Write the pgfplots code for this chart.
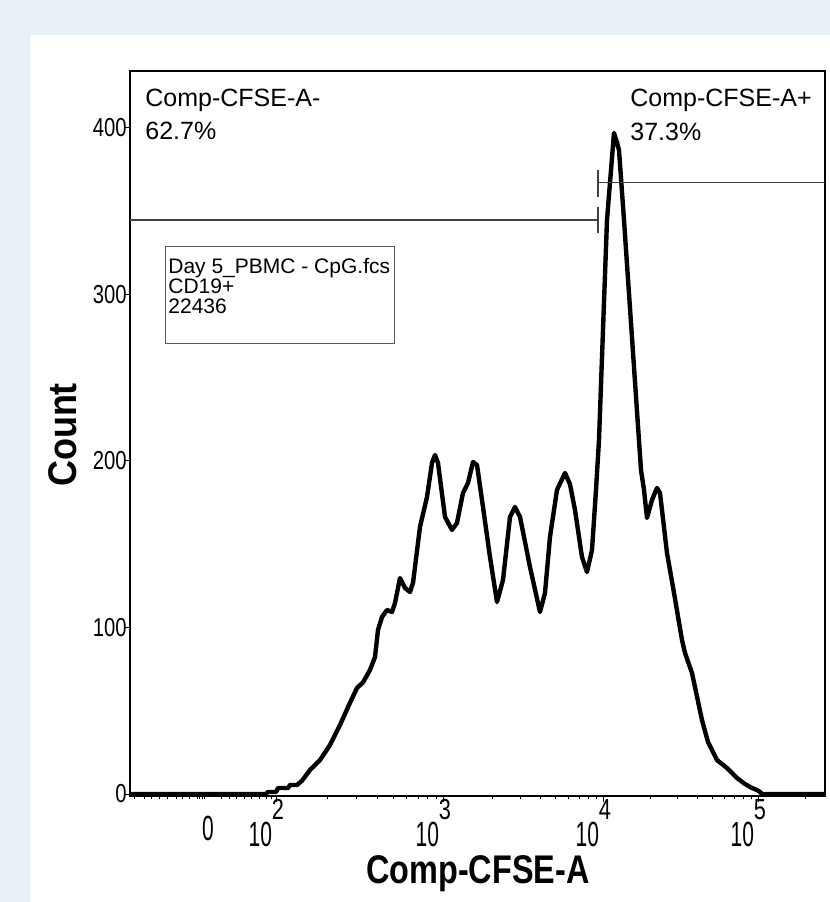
\documentclass[border=0pt]{standalone}
\usepackage{pgfplots}
\pgfplotsset{compat=1.18}
\usepackage{fontspec}
\setmainfont{Liberation Sans}
\newfontfamily\narrowfont{Liberation Sans}[FakeStretch=0.6]
\newfontfamily\expfont{Liberation Sans}[FakeStretch=0.75]
\newfontfamily\ylabfont{Liberation Sans}[FakeStretch=0.78]
\newfontfamily\xaxlabfont{Liberation Sans}[FakeStretch=0.81]
\newfontfamily\yaxlabfont{Liberation Sans}[FakeStretch=0.9]
\definecolor{bgblue}{RGB}{232,241,245}
\newcommand{\xlab}[1]{\makebox[0pt][r]{10\hspace{2.5pt}}\makebox[0pt][l]{\hspace{-2.5pt}\raisebox{13.5pt}{\expfont\fontsize{14.5}{14.5}\selectfont #1}}}
\newcommand{\ylab}[1]{{\ylabfont\fontsize{13}{13}\selectfont #1}}
\begin{document}
\begin{tikzpicture}
\fill[bgblue] (-65pt,-53pt) rectangle (350pt,398pt);
\fill[white] (-50pt,-53pt) rectangle (350pt,380.5pt);
\useasboundingbox (-65pt,-53pt) rectangle (350pt,398pt);
\begin{axis}[
  at={(0pt,0pt)}, anchor=south west,
  scale only axis, width=347.5pt, height=362.5pt,
  xmin=130, xmax=825, ymin=-1.2, ymax=434.2,
  clip=false,
  axis line style={line width=1.2pt},
  tick align=outside,
  xtick pos=bottom, ytick pos=left,
  major tick length=3pt, minor tick length=1.5pt,
  tick style={black, line width=0.5pt},
  xtick={277,444,604,759},
  xticklabels={\xlab{2},\xlab{3},\xlab{4},\xlab{5}},
  minor xtick={135,145,152,160,168,177,183,190,198,200,203,205,222,230,237,245,252,260,267,272,
    327.3,356.7,377.5,393.7,407,418.1,427.8,436.4,
    492.2,520.3,540.3,555.8,568.5,579.2,588.5,596.7,
    650.7,678,697.3,712.3,724.6,735,744,751.9,805.7},
  extra x ticks={208},
  extra x tick labels={0},
  extra x tick style={major tick length=0pt},
  xticklabel style={anchor=base, yshift=-22pt, inner sep=0pt, font=\narrowfont\fontsize{17.5}{17.5}\selectfont},
  ytick={0,100,200,300,400},
  yticklabels={\ylab{0},\ylab{100},\ylab{200},\ylab{300},\ylab{400}},
  yticklabel style={anchor=east, inner sep=0pt, xshift=1.5pt},
]
\addplot[fill=black!25, draw=none] coordinates {(614,397) (620,392) (621,381) (618,384)} -- cycle;
\addplot[black, line width=2.2pt, line join=round] coordinates {
(130,0) (266,0) (268,1.2) (276,1.2) (278,3.6) (288,3.6) (290,5.4) (297,5.4) (302,8)
(310,14.4) (320,20.4) (330,29.4) (340,41.4) (349,53.5) (357,63.7) (363,67) (370,74.5)
(375,82.3) (378,98.5) (382,106.3) (387,110.5) (392,109.3) (395,114.7) (400,129.7)
(405,123.7) (410,121.3) (413,126.7) (420,160.4) (427,178.4) (432,198.8) (435,203.6)
(438,198.8) (445,166.4) (452,158.6) (457,162.8) (463,180.8) (468,186.8) (473,199.4)
(477,197.6) (483,172.4) (490,142.3) (497,115.3) (503,128.5) (510,166.4) (515,172.4)
(520,166.4) (530,136.3) (540,109.3) (545,120.7) (550,154.4) (557,182.6) (565,192.8)
(570,186) (575,170.6) (582,142.3) (587,133.3) (592,146.5) (596,182.6) (599,212.6)
(607,344.7) (614,397) (619,386.8) (624,344.7) (641,194.6) (644,182.6) (647,165.8)
(652,176.6) (657,183.8) (660,180.8) (667,144.7) (673,124.3) (682,92.5) (685,84.7)
(692,72.7) (702,44.4) (708,31.2) (717,20.4) (727,15.6) (737,9.6) (745,6) (752,3.6)
(757,2.4) (760,1.2) (762,0) (825,0)};
% gates
\addplot[black!75, line width=0.6pt] coordinates {(130,344.7) (598,344.7)};
\addplot[black!75, line width=0.6pt] coordinates {(598,336.9) (598,352.5)};
\addplot[black!75, line width=0.6pt] coordinates {(598,358.6) (598,374.8)};
\addplot[black!75, line width=0.6pt] coordinates {(598,367) (825,367)};
% annotations
\node[anchor=base west, inner sep=0pt, font=\fontsize{12.5}{12.5}\selectfont] at (axis cs:145,412.6) {Comp-CFSE-A-};
\node[anchor=base west, inner sep=0pt, font=\fontsize{12.5}{12.5}\selectfont] at (axis cs:145,392.8) {62.7\%};
\node[anchor=base west, inner sep=0pt, font=\fontsize{12.5}{12.5}\selectfont] at (axis cs:630,412.6) {Comp-CFSE-A+};
\node[anchor=base west, inner sep=0pt, font=\fontsize{12.5}{12.5}\selectfont] at (axis cs:630,392.2) {37.3\%};
\draw[black!65, line width=0.5pt] (axis cs:166,270.3) rectangle (axis cs:395,329.1);
\node[anchor=base west, inner sep=0pt, font=\fontsize{10.5}{10.5}\selectfont] at (axis cs:168,312.6) {Day 5\_PBMC - CpG.fcs};
\node[anchor=base west, inner sep=0pt, font=\fontsize{10.5}{10.5}\selectfont] at (axis cs:168,300.4) {CD19+};
\node[anchor=base west, inner sep=0pt, font=\fontsize{10.5}{10.5}\selectfont] at (axis cs:168,288.6) {22436};
\end{axis}
\node[rotate=90, anchor=base, inner sep=0pt, font=\yaxlabfont\bfseries\fontsize{20}{20}\selectfont] at (-26.5pt,180.5pt) {Count};
\node[anchor=base, inner sep=0pt, font=\xaxlabfont\bfseries\fontsize{20}{20}\selectfont] at (174pt,-43.5pt) {Comp-CFSE-A};
\end{tikzpicture}
\end{document}
